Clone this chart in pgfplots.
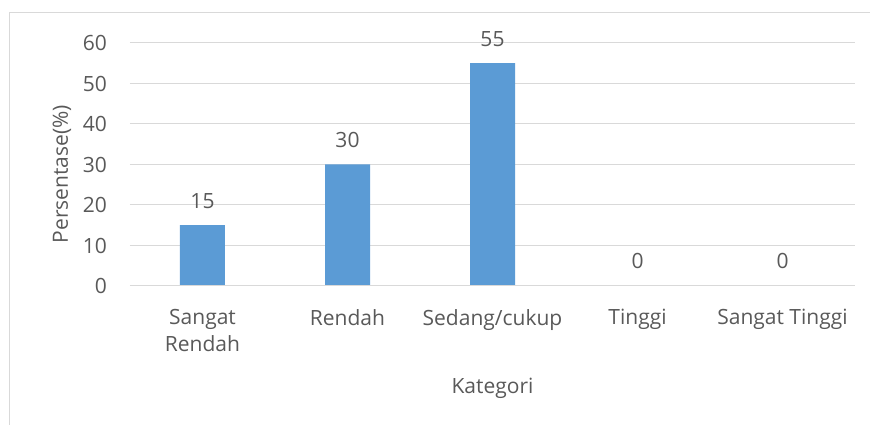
\documentclass[border=0pt]{standalone}
\usepackage{fontspec}
\setmainfont{Open Sans}
\usepackage{pgfplots}
\pgfplotsset{compat=1.18}
\definecolor{barblue}{HTML}{5B9BD5}
\definecolor{txtgray}{HTML}{595959}
\definecolor{gridgray}{HTML}{D9D9D9}

\begin{document}
\begin{tikzpicture}
\fontsize{21}{27}\selectfont
% page = 870x425, axis box lower left at pixel (130,286)
\path[use as bounding box] (-130pt,-139pt) rectangle (740pt,286pt);
\draw[gridgray, line width=1pt] (-120pt,-139pt) -- (-120pt,273pt) -- (740pt,273pt);
\begin{axis}[
    at={(0pt,0pt)}, anchor=south west,
    scale only axis,
    width=725pt, height=243pt,
    ybar, bar width=45pt,
    xmin=-0.5, xmax=4.5,
    ymin=0, ymax=60,
    ytick={0,10,...,60},
    xtick=data,
    xticklabels={{Sangat\\Rendah},Rendah,Sedang/cukup,Tinggi,Sangat Tinggi},
    major tick length=0pt,
    axis line style={draw=none},
    ymajorgrids, grid style={gridgray, line width=1pt},
    /pgf/number format/assume math mode=true,
    tick label style={font=\fontsize{21}{27}\selectfont, text=txtgray},
    yticklabel style={anchor=east, inner sep=0pt, xshift=-23pt},
    xticklabel style={anchor=north, inner sep=0pt, yshift=-23pt, align=center},
    xlabel={Kategori},
    ylabel={Persentase(\%)},
    label style={font=\fontsize{21}{27}\selectfont, text=txtgray},
    xlabel style={at={([yshift=-107pt]axis description cs:0.5,0)}, anchor=base, inner sep=0pt},
    ylabel style={at={([xshift=-68pt,yshift=-9.5pt]axis description cs:0,0.5)}, anchor=center, inner sep=0pt},
    nodes near coords,
    every node near coord/.append style={anchor=base, yshift=17pt, font=\fontsize{21}{27}\selectfont, text=txtgray},
    clip=false,
]
\addplot[fill=barblue, draw=none] coordinates {(0,15) (1,30) (2,55) (3,0) (4,0)};
\draw[gridgray, line width=1pt] (axis cs:-0.5,0) -- (axis cs:4.5,0);
\end{axis}
\end{tikzpicture}
\end{document}
